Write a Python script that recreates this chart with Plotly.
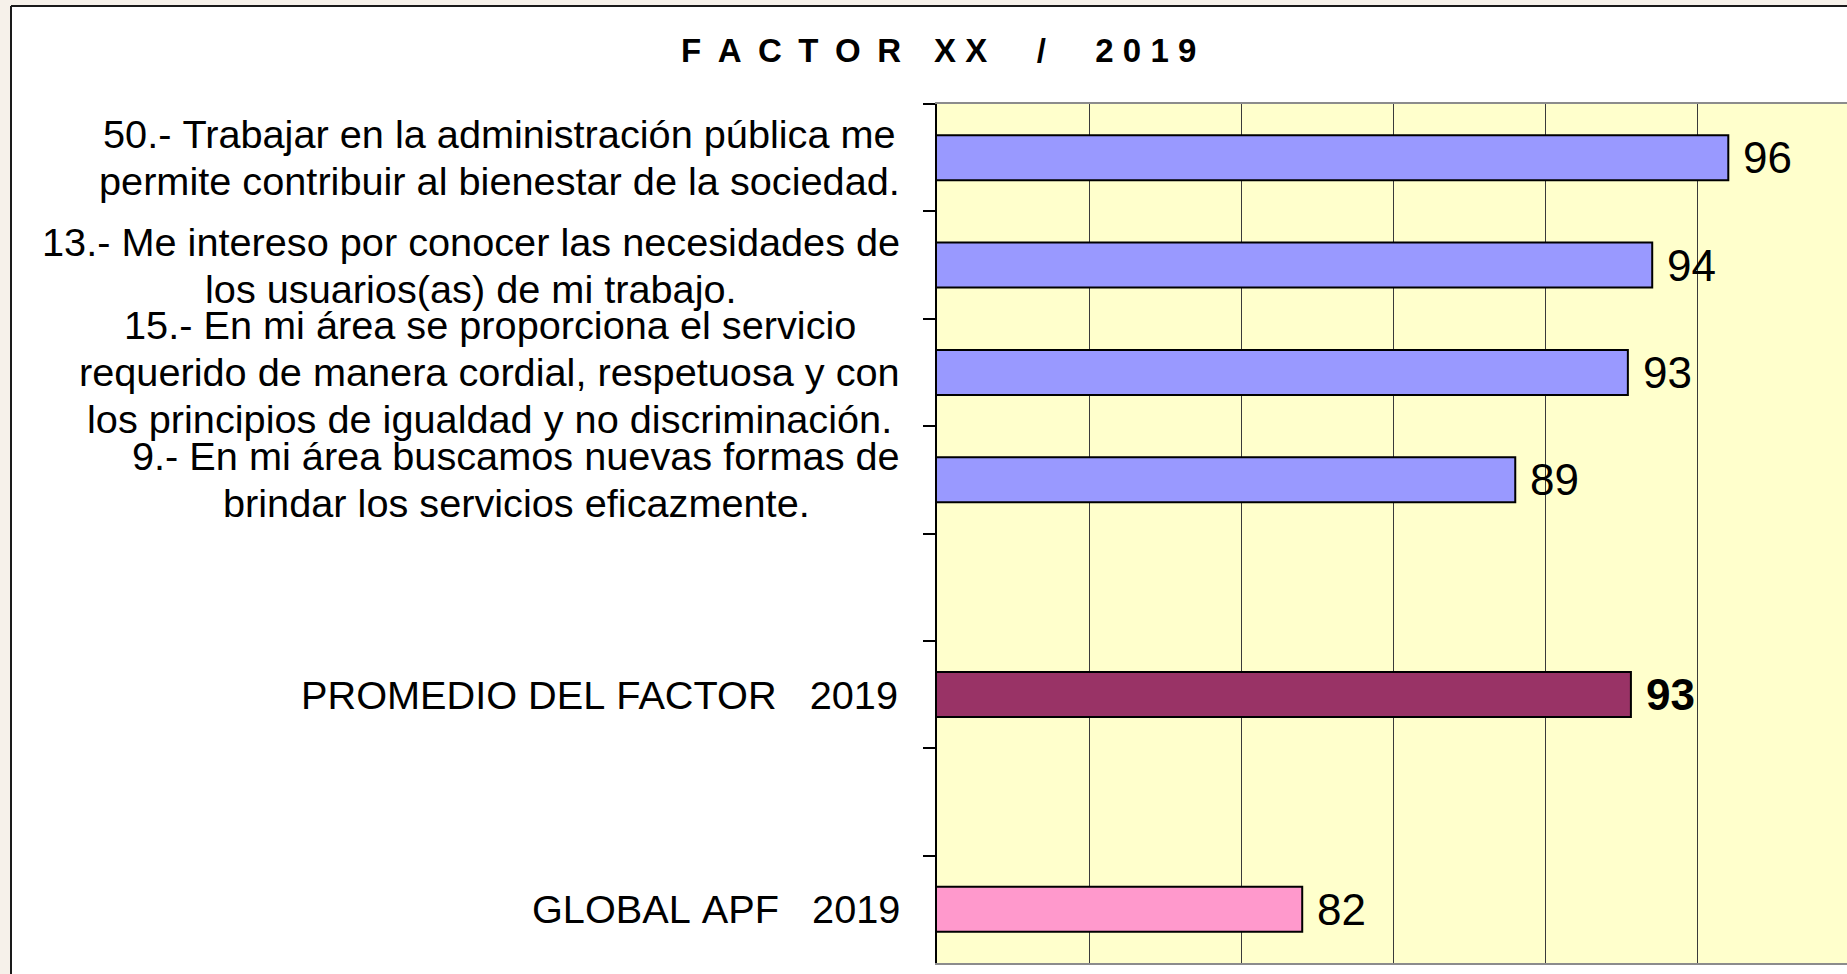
import plotly.graph_objects as go

# ---------------- data ----------------
categories = ["q50", "q13", "q15", "q9", "blank1", "promedio", "blank2", "global"]
label_lines = [
    ["50.- Trabajar en la administración pública me",
     "permite contribuir al bienestar de la sociedad."],
    ["13.- Me intereso por conocer las necesidades de",
     "los usuarios(as) de mi trabajo."],
    ["15.- En mi área se proporciona el servicio",
     "requerido de manera cordial, respetuosa y con",
     "los principios de igualdad y no discriminación."],
    ["9.- En mi área buscamos nuevas formas de",
     "brindar los servicios eficazmente."],
    [],
    ["PROMEDIO DEL FACTOR   2019"],
    [],
    ["GLOBAL APF   2019"],
]
values = [96.0, 93.5, 92.7, 89.0, None, 92.8, None, 82.0]
value_bold = [False, False, False, False, False, True, False, False]
bar_colors = ["#9999ff", "#9999ff", "#9999ff", "#9999ff", "#9999ff",
              "#993366", "#9999ff", "#ff99cc"]
title_text = "F\u2002A\u2002C\u2002T\u2002O\u2002R\u2003X X\u2003\u2002/\u2003\u20022 0 1 9"

# ---------------- layout constants ----------------
W, H = 1847, 974
ML, MR, MT, MB = 937, 0, 104, 11
PW, PH = W - ML - MR, H - MT - MB
FONT = "Liberation Sans, Arial, sans-serif"
LABEL_SIZE = 39.7
LINE_STEP = 47
LABEL_GAP = 37


def px_x(px):
    return (px - ML) / PW


def px_y(py):
    return 1 - (py - MT) / PH


# Arial / Liberation Sans advance widths (1/1000 em) for centring label lines
ADV = {' ': 278, '\u00a0': 278, '.': 278, ',': 278, '-': 333, '(': 333, ')': 333, '/': 278}
ADV.update({d: 556 for d in "0123456789"})
ADV.update(dict(A=667, B=667, C=722, D=722, E=667, F=611, G=778, H=722, I=278, J=500,
                K=667, L=556, M=833, N=722, O=778, P=667, Q=778, R=722, S=667, T=611,
                U=722, V=667, W=944, X=667, Y=667, Z=611))
ADV.update(dict(a=556, b=556, c=500, d=556, e=556, f=278, g=556, h=556, i=222, j=222,
                k=500, l=222, m=833, n=556, o=556, p=556, q=556, r=333, s=500, t=278,
                u=556, v=500, w=722, x=500, y=500, z=500))
ADV.update({'á': 556, 'é': 556, 'í': 278, 'ó': 556, 'ú': 556, 'ñ': 556})


def text_w(s, size):
    return sum(ADV.get(c, 556) for c in s) * size / 1000.0


fig = go.Figure()
fig.add_trace(go.Bar(
    x=values, y=categories, orientation="h", width=0.42,
    marker=dict(color=bar_colors, line=dict(color="black", width=2)),
    hoverinfo="x+y", showlegend=False,
))

annotations = []
# category labels (one annotation per line, block right-aligned, lines centred)
for cat, lines in zip(categories, label_lines):
    if not lines:
        continue
    maxw = max(text_w(l, LABEL_SIZE) for l in lines)
    n = len(lines)
    for i, line in enumerate(lines):
        annotations.append(dict(
            x=0, xref="paper", y=cat, yref="y",
            text=line.replace(" ", "\u00a0"),
            showarrow=False, xanchor="center", yanchor="middle",
            xshift=-(LABEL_GAP + maxw / 2.0),
            yshift=-(i - (n - 1) / 2.0) * LINE_STEP,
            font=dict(family=FONT, size=LABEL_SIZE, color="black"),
        ))

# value labels
for cat, v, b in zip(categories, values, value_bold):
    if v is None:
        continue
    txt = f"{v:.0f}"
    annotations.append(dict(
        x=v, xref="x", y=cat, yref="y",
        text=f"<b>{txt}</b>" if b else txt,
        showarrow=False, xanchor="left", yanchor="middle", xshift=13,
        font=dict(family=FONT, size=44, color="black"),
    ))

# title
annotations.append(dict(
    x=px_x(938), xref="paper", y=px_y(50), yref="paper",
    text=f"<b>{title_text}</b>", showarrow=False,
    xanchor="center", yanchor="middle",
    font=dict(family=FONT, size=33, color="black"),
))

shapes = [
    # slide background outside the frame
    dict(type="rect", xref="paper", yref="paper", x0=px_x(0), x1=px_x(11), y0=px_y(H + 5), y1=px_y(-5),
         fillcolor="#f6f1ea", line=dict(width=0), layer="above"),
    dict(type="rect", xref="paper", yref="paper", x0=px_x(0), x1=px_x(W + 5), y0=px_y(6), y1=px_y(-5),
         fillcolor="#f6f1ea", line=dict(width=0), layer="above"),
    # frame
    dict(type="line", xref="paper", yref="paper", x0=px_x(11), x1=px_x(11), y0=px_y(6), y1=px_y(H + 5),
         line=dict(color="#1a1a1a", width=2), layer="above"),
    dict(type="line", xref="paper", yref="paper", x0=px_x(11), x1=px_x(W + 5), y0=px_y(6), y1=px_y(6),
         line=dict(color="#1a1a1a", width=2), layer="above"),
]

fig.update_layout(
    width=W, height=H,
    margin=dict(l=ML, r=MR, t=MT, b=MB, pad=0),
    paper_bgcolor="white",
    plot_bgcolor="#ffffcc",
    font=dict(family=FONT, color="black"),
    annotations=annotations,
    shapes=shapes,
    xaxis=dict(
        range=[70, 99.9], tick0=70, dtick=5,
        showgrid=True, gridcolor="#3a3a3a", gridwidth=1,
        showticklabels=False, ticks="", zeroline=False,
        showline=True, linecolor="#8c8c8c", linewidth=2, mirror=True,
        fixedrange=True,
    ),
    yaxis=dict(
        categoryorder="array", categoryarray=categories,
        autorange="reversed",
        showticklabels=False, ticks="outside", ticklen=12, tickwidth=1.5, tickcolor="black",
        tickson="boundaries",
        showgrid=False, zeroline=False,
        showline=True, linecolor="black", linewidth=2,
        fixedrange=True,
    ),
)

fig.write_html("out.html", config={"displayModeBar": False},
               post_script="document.body.style.margin='0';document.body.style.overflow='hidden';")
